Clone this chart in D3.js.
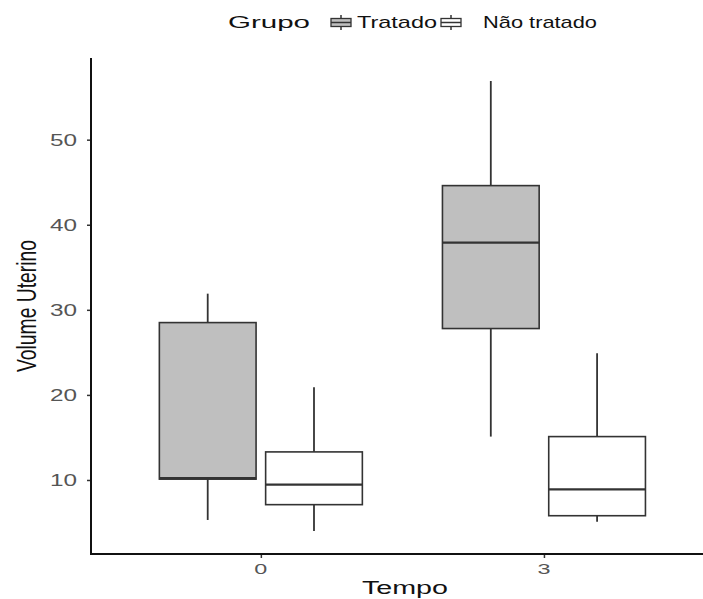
<!DOCTYPE html>
<html>
<head>
<meta charset="utf-8">
<script src="https://cdn.jsdelivr.net/npm/d3@7"></script>
<style>
  body { margin: 0; background: #fff; }
  text { font-family: "Liberation Sans", Arial, sans-serif; }
</style>
</head>
<body>
<div id="chart"></div>
<script>
// data
const tempos = ["0", "3"]
const grupos = ["Tratado", "Não tratado"]
const fills = ["#bfbfbf", "#ffffff"]
// [tempo, grupo, min, q1, median, q3, max]
const boxes = [
    ["0", "Tratado",      5.3, 10.1, 10.2, 28.5, 31.9],
    ["0", "Não tratado",  4.0,  7.1,  9.45, 13.3, 20.9],
    ["3", "Tratado",     15.1, 27.8, 37.9, 44.6, 56.9],
    ["3", "Não tratado",  5.1,  5.8,  8.9, 15.1, 24.9]
]
const yTicks = [10, 20, 30, 40, 50]

const width = 703, height = 599
const margin = {top: 58, left: 91, bottom: 45}

const svg = d3.select("#chart")
    .append("svg")
    .attr("width", width)
    .attr("height", height)

// scales
const x = d3.scalePoint()
    .domain(tempos)
    .range([margin.left, margin.left + 622.8])
    .padding(0.6)

const inner = d3.scaleBand()
    .domain(grupos)
    .range([-101.5, 101.5])
    .paddingInner(0.09)

const y = d3.scaleLinear()
    .domain([1.3, 59.6])
    .range([height - margin.bottom, margin.top])

const color = d3.scaleOrdinal().domain(grupos).range(fills)

const stroke = "#333333"

// boxes
const g = svg.selectAll("g.box")
    .data(boxes)
    .join("g")
    .attr("class", "box")
    .attr("transform", d => `translate(${x(d[0]) + inner(d[1])},0)`)

const bw = inner.bandwidth()

// whiskers
g.append("line")
    .attr("x1", bw / 2).attr("x2", bw / 2)
    .attr("y1", d => y(d[6])).attr("y2", d => y(d[5]))
    .attr("stroke", stroke).attr("stroke-width", 1.8)
g.append("line")
    .attr("x1", bw / 2).attr("x2", bw / 2)
    .attr("y1", d => y(d[3])).attr("y2", d => y(d[2]))
    .attr("stroke", stroke).attr("stroke-width", 1.8)

g.append("rect")
    .attr("x", 0)
    .attr("width", bw)
    .attr("y", d => y(d[5]))
    .attr("height", d => y(d[3]) - y(d[5]))
    .attr("fill", d => color(d[1]))
    .attr("stroke", stroke)
    .attr("stroke-width", 1.6)

// median
g.append("line")
    .attr("x1", 0).attr("x2", bw)
    .attr("y1", d => y(d[4])).attr("y2", d => y(d[4]))
    .attr("stroke", stroke).attr("stroke-width", 2.4)

// axes
const yAxis = svg.append("g")
    .attr("transform", `translate(${margin.left},0)`)
    .call(d3.axisLeft(y).tickValues(yTicks).tickSize(4).tickPadding(0).tickFormat(d3.format("d")))
yAxis.select(".domain").remove()
yAxis.selectAll(".tick line").attr("stroke", "#333").attr("stroke-width", 1.5)
yAxis.selectAll(".tick text").remove()

const xAxis = svg.append("g")
    .attr("transform", `translate(0,${y.range()[0]})`)
    .call(d3.axisBottom(x).tickSize(4).tickPadding(0))
xAxis.select(".domain").remove()
xAxis.selectAll(".tick line").attr("stroke", "#333").attr("stroke-width", 1.5)
xAxis.selectAll(".tick text").remove()

// tick labels (the picture is stretched sideways, so fit widths)
svg.selectAll("text.ylab")
    .data(yTicks)
    .join("text")
    .attr("class", "ylab")
    .attr("x", 77)
    .attr("y", d => y(d) + 6)
    .attr("text-anchor", "end")
    .attr("font-size", 16)
    .attr("fill", "#555")
    .attr("textLength", 27)
    .attr("lengthAdjust", "spacingAndGlyphs")
    .text(d => d)

svg.selectAll("text.xlab")
    .data(tempos)
    .join("text")
    .attr("class", "xlab")
    .attr("x", d => x(d))
    .attr("y", 574)
    .attr("text-anchor", "middle")
    .attr("font-size", 15)
    .attr("fill", "#555")
    .attr("textLength", 13)
    .attr("lengthAdjust", "spacingAndGlyphs")
    .text(d => d)

// axis lines
svg.append("line")
    .attr("x1", margin.left).attr("x2", margin.left)
    .attr("y1", margin.top).attr("y2", y.range()[0] + 1)
    .attr("stroke", "#111").attr("stroke-width", 2)
svg.append("line")
    .attr("x1", margin.left - 1).attr("x2", width)
    .attr("y1", y.range()[0]).attr("y2", y.range()[0])
    .attr("stroke", "#111").attr("stroke-width", 2)

// axis titles
svg.append("text")
    .attr("x", 405)
    .attr("y", 594)
    .attr("text-anchor", "middle")
    .attr("font-size", 18)
    .attr("fill", "#111")
    .attr("textLength", 86)
    .attr("lengthAdjust", "spacingAndGlyphs")
    .text("Tempo")

svg.append("g")
    .attr("transform", `translate(36,306) scale(1.5,1) rotate(-90)`)
    .append("text")
    .attr("text-anchor", "middle")
    .attr("font-size", 19)
    .attr("fill", "#111")
    .attr("textLength", 132)
    .attr("lengthAdjust", "spacingAndGlyphs")
    .text("Volume Uterino")

// legend
const legend = svg.append("g")
legend.append("text")
    .attr("x", 228).attr("y", 28)
    .attr("font-size", 17)
    .attr("fill", "#111")
    .attr("textLength", 82)
    .attr("lengthAdjust", "spacingAndGlyphs")
    .text("Grupo")

const keyX = [329, 439]
const labX = [357, 483]
const labW = [80, 114]

grupos.forEach((gr, i) => {
    const k = legend.append("g").attr("transform", `translate(${keyX[i]},14)`)
    k.append("line").attr("x1", 12).attr("x2", 12).attr("y1", 1).attr("y2", 16)
        .attr("stroke", stroke).attr("stroke-width", 1.5)
    k.append("rect").attr("x", 2).attr("y", 4.5).attr("width", 20).attr("height", 8)
        .attr("fill", color(gr)).attr("stroke", stroke).attr("stroke-width", 1.3)
    k.append("line").attr("x1", 2).attr("x2", 22).attr("y1", 8.5).attr("y2", 8.5)
        .attr("stroke", stroke).attr("stroke-width", 1.5)
    legend.append("text")
        .attr("x", labX[i]).attr("y", 28)
        .attr("font-size", 17)
        .attr("fill", "#111")
        .attr("textLength", labW[i])
        .attr("lengthAdjust", "spacingAndGlyphs")
        .text(gr)
})
</script>
</body>
</html>
